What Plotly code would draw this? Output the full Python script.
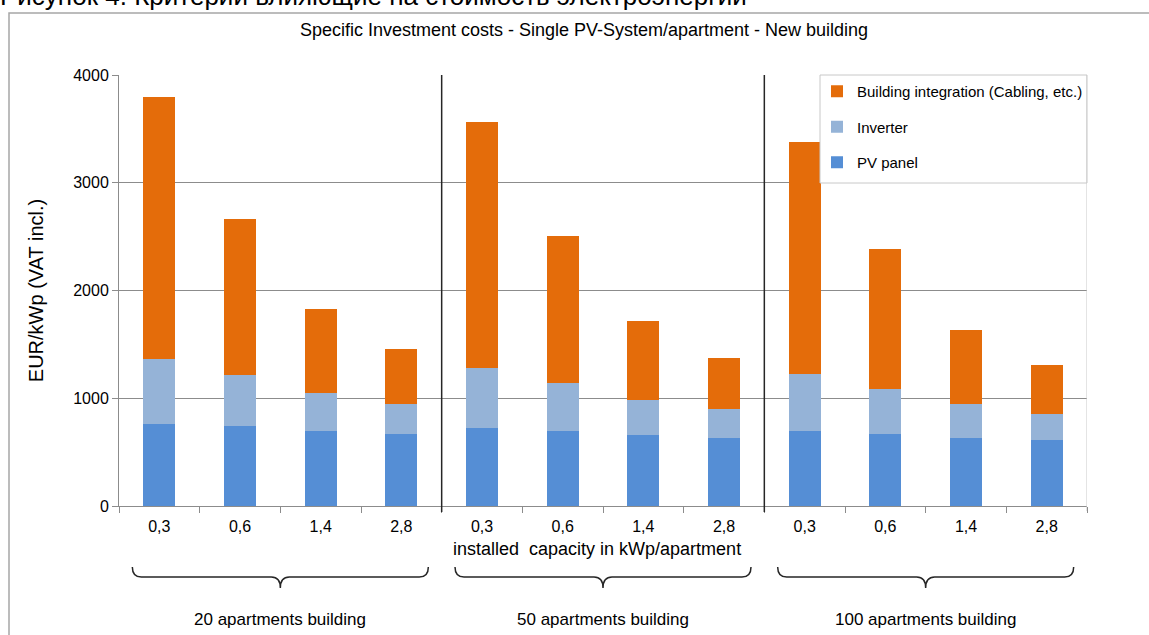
import plotly.graph_objects as go

# ---- data ----
capacities = ["0,3", "0,6", "1,4", "2,8"]
buildings = ["20 apartments building", "50 apartments building", "100 apartments building"]
pv_panel = [763, 739, 698, 667, 723, 696, 656, 631, 696, 665, 631, 609]
inverter = [602, 474, 350, 279, 561, 441, 328, 267, 530, 425, 313, 245]
building_integration = [2435, 1451, 779, 514, 2276, 1367, 732, 474, 2155, 1293, 689, 453]
y_ticks = [0, 1000, 2000, 3000, 4000]

# ---- layout constants ----
W, H = 1149, 635
L, R, T, B = 119, 62, 75, 129
PH = H - T - B  # plot height px
PW = W - L - R


def py(pix):
    """pixel y (from top) -> paper y"""
    return (H - B - pix) / PH


def px(pix):
    return (pix - L) / PW


FONT = "Liberation Sans, Arial, sans-serif"
n_groups = len(buildings)
n_cap = len(capacities)
x_idx = list(range(n_groups * n_cap))
tick_text = capacities * n_groups

fig = go.Figure()
series = [
    ("PV panel", pv_panel, "#558ED5", 3),
    ("Inverter", inverter, "#95B3D7", 2),
    ("Building integration (Cabling, etc.)", building_integration, "#E46C0A", 1),
]
for i, (name, vals, col, rank) in enumerate(series):
    fig.add_trace(go.Bar(
        x=x_idx, y=vals, name=name, marker=dict(color=col, line=dict(width=0)),
        width=0.4, legendgroup=f"g{i}", legendrank=rank,
    ))

shapes = []
# outer frame
shapes.append(dict(type="rect", xref="paper", yref="paper",
                   x0=px(9), x1=px(1170), y0=py(13), y1=py(700),
                   line=dict(color="#a6a6a6", width=1.5), fillcolor="rgba(0,0,0,0)", layer="below"))
# legend box
shapes.append(dict(type="rect", xref="paper", yref="paper",
                   x0=px(820), x1=1.0, y0=py(183), y1=1.0,
                   line=dict(color="#c8c8c8", width=1), fillcolor="white", layer="above"))
# right border of plot area
shapes.append(dict(type="line", xref="x", yref="paper", x0=len(x_idx) - 0.5, x1=len(x_idx) - 0.5,
                   y0=py(511), y1=1.0, line=dict(color="#c8c8c8", width=1), layer="above"))
# group separators
for g in range(1, n_groups):
    xs = g * n_cap - 0.5
    shapes.append(dict(type="line", xref="x", yref="paper", x0=xs, x1=xs, y0=py(512), y1=1.0,
                       line=dict(color="#262626", width=1.5), layer="above"))
# curly braces below groups
px_per_cat = PW / len(x_idx)
hs = 148 / px_per_cat
r = 9 / px_per_cat
y_end, y_mid, y_tip = py(567), py(577), py(588)
annotations = []
for g in range(n_groups):
    xc = g * n_cap + (n_cap - 1) / 2
    xl, xr = xc - hs, xc + hs
    path = (f"M {xl},{y_end} Q {xl},{y_mid} {xl + r},{y_mid} L {xc - r},{y_mid} "
            f"Q {xc},{y_mid} {xc},{y_tip} Q {xc},{y_mid} {xc + r},{y_mid} "
            f"L {xr - r},{y_mid} Q {xr},{y_mid} {xr},{y_end}")
    shapes.append(dict(type="path", xref="x", yref="paper", path=path,
                       line=dict(color="#262626", width=1.5)))
    annotations.append(dict(text=buildings[g], xref="x", yref="paper", x=xc, y=py(619),
                            showarrow=False, xanchor="center", yanchor="middle",
                            font=dict(family=FONT, size=17, color="#000")))

# x-axis title (slightly left of plot centre, as in the reference)
annotations.append(dict(text="installed  capacity in kWp/apartment", xref="paper", yref="paper",
                        x=px(597), y=py(549), xanchor="center", yanchor="middle", showarrow=False,
                        font=dict(family=FONT, size=18, color="#000")))

# cut-off caption at the very top of the page
annotations.append(dict(text="Рисунок 4. Критерии влияющие на стоимость электроэнергии",
                        xref="paper", yref="paper", x=px(-2), y=py(13),
                        xanchor="left", yanchor="bottom", showarrow=False,
                        font=dict(family=FONT, size=26, color="#000")))

fig.update_layout(
    width=W, height=H, autosize=False,
    margin=dict(l=L, r=R, t=T, b=B),
    paper_bgcolor="white", plot_bgcolor="white",
    barmode="stack", bargap=0.6,
    font=dict(family=FONT, size=16, color="#000"),
    title=dict(text="Specific Investment costs - Single PV-System/apartment - New building",
               x=584 / W, xanchor="center", y=1 - 30 / H, yanchor="middle",
               font=dict(family=FONT, size=18, color="#000")),
    xaxis=dict(
        range=[-0.5, len(x_idx) - 0.5], tickmode="array", tickvals=x_idx, ticktext=tick_text,
        ticks="", showgrid=False, showline=True, linecolor="#8c8c8c", linewidth=1,
        zeroline=False, tickfont=dict(size=16), ticklabelstandoff=6,
        minor=dict(tickmode="array", tickvals=[i - 0.5 for i in range(len(x_idx) + 1)],
                   ticks="outside", ticklen=6, tickcolor="#8c8c8c", showgrid=False),
    ),
    yaxis=dict(
        range=[0, 4000], tickmode="array", tickvals=y_ticks,
        showgrid=True, gridcolor="#8c8c8c", gridwidth=1,
        showline=True, linecolor="#8c8c8c", linewidth=1, zeroline=False,
        ticks="outside", ticklen=6, tickcolor="#8c8c8c", tickfont=dict(size=16),
        title=dict(text="EUR/kWp (VAT incl.)", font=dict(size=20), standoff=24),
    ),
    legend=dict(x=px(817), y=1.0, xanchor="left", yanchor="top",
                bgcolor="rgba(0,0,0,0)", borderwidth=0,
                traceorder="grouped", tracegroupgap=13,
                font=dict(family=FONT, size=15, color="#000")),
    shapes=shapes, annotations=annotations,
)

fig.write_html("out.html", config={"displayModeBar": False},
               post_script="document.body.style.margin='0px';")
